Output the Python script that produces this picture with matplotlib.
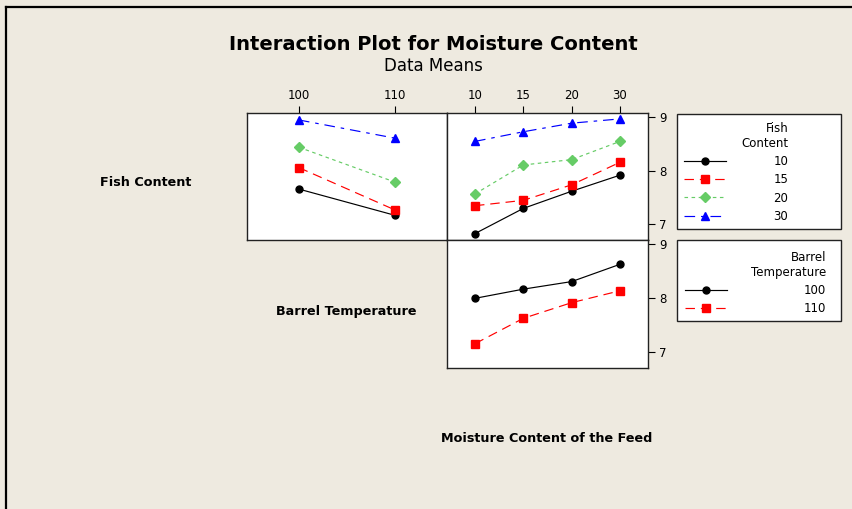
import matplotlib.pyplot as plt
from matplotlib.patches import Rectangle
from matplotlib.lines import Line2D

# niveis dos fatores
barrel_temps = ['100', '110']
moisture_levels = ['10', '15', '20', '30']
fish_levels = ['10', '15', '20', '30']

# medias de umidade: teor de peixe x temperatura do barril
fish10_by_barrel = [7.66, 7.17]
fish15_by_barrel = [8.06, 7.27]
fish20_by_barrel = [8.44, 7.79]
fish30_by_barrel = [8.95, 8.61]

# medias de umidade: teor de peixe x umidade da racao
fish10_by_moist = [6.83, 7.30, 7.62, 7.92]
fish15_by_moist = [7.35, 7.45, 7.74, 8.16]
fish20_by_moist = [7.57, 8.11, 8.21, 8.55]
fish30_by_moist = [8.55, 8.73, 8.89, 8.97]

# medias de umidade: temperatura do barril x umidade da racao
barrel100_by_moist = [8.00, 8.17, 8.31, 8.63]
barrel110_by_moist = [7.16, 7.63, 7.92, 8.14]

y_ticks = [7, 8, 9]

# estilos (estilo Minitab)
colors = ['black', '#FF0000', '#66CC66', '#0000FF']
markers = ['o', 's', 'D', '^']
msizes = [5.0, 5.2, 5.2, 6.2]
dashes = ['-', (0, (8, 5)), (0, (3, 3)), (0, (9, 5, 3, 5))]

W, H = 853, 509
bg = '#EEEAE0'
fig = plt.figure(figsize=(W / 100, H / 100), dpi=100, facecolor=bg)


def px_axes(x0, y0, x1, y1):
    # cria eixos a partir de coordenadas em pixels (origem no topo)
    return fig.add_axes([x0 / W, 1 - y1 / H, (x1 - x0) / W, (y1 - y0) / H])


def style_axes(ax, top_labels, right_labels, n):
    ax.set_facecolor('white')
    ax.set_xlim(-0.5 - 0.02 * n, n - 0.5 + 0.02 * n)
    ax.set_ylim(6.71, 9.08)
    for s in ax.spines.values():
        s.set_linewidth(1.0)
        s.set_color('#222222')
    ax.tick_params(axis='both', labelsize=8.5, length=5, width=0.8, direction='out', pad=3)
    if top_labels is not None:
        ax.xaxis.tick_top()
        ax.set_xticks(range(n))
        ax.set_xticklabels(top_labels)
    else:
        ax.set_xticks([])
    if right_labels:
        ax.yaxis.tick_right()
        ax.set_yticks(y_ticks)
    else:
        ax.set_yticks([])


# painel superior esquerdo: teor de peixe vs temperatura do barril
ax1 = px_axes(247, 113, 447, 240)
style_axes(ax1, barrel_temps, False, 2)
xb = range(len(barrel_temps))
for vals, c, m, ms, ls in zip([fish10_by_barrel, fish15_by_barrel, fish20_by_barrel, fish30_by_barrel],
                              colors, markers, msizes, dashes):
    ax1.plot(xb, vals, color=c, marker=m, markersize=ms, linestyle=ls, linewidth=0.85)

# painel superior direito: teor de peixe vs umidade da racao
ax2 = px_axes(447, 113, 648, 240)
style_axes(ax2, moisture_levels, True, 4)
xm = range(len(moisture_levels))
fish_lines = []
for vals, c, m, ms, ls in zip([fish10_by_moist, fish15_by_moist, fish20_by_moist, fish30_by_moist],
                              colors, markers, msizes, dashes):
    ln, = ax2.plot(xm, vals, color=c, marker=m, markersize=ms, linestyle=ls, linewidth=0.85)
    fish_lines.append(ln)

# painel inferior: temperatura do barril vs umidade da racao
ax3 = px_axes(447, 240, 648, 368)
style_axes(ax3, None, True, 4)
barrel_lines = []
for vals, c, m, ms, ls in zip([barrel100_by_moist, barrel110_by_moist],
                              colors, markers, msizes, dashes):
    ln, = ax3.plot(xm, vals, color=c, marker=m, markersize=ms, linestyle=ls, linewidth=0.85)
    barrel_lines.append(ln)

# caixas das legendas
for (x0, y0, x1, y1) in [(677, 114, 841, 229), (677, 240, 841, 321)]:
    fig.add_artist(Rectangle((x0 / W, 1 - y1 / H), (x1 - x0) / W, (y1 - y0) / H,
                             transform=fig.transFigure, facecolor='white',
                             edgecolor='#222222', linewidth=1.0))

leg1 = fig.legend(fish_lines, fish_levels, title='Fish\nContent', loc='upper right',
                  bbox_to_anchor=(799 / W, 1 - 111 / H), frameon=False, fontsize=8.5,
                  title_fontsize=8.5, handlelength=3.6, handletextpad=4.0,
                  labelspacing=0.45, alignment='right', borderpad=0.4)
leg1.get_title().set_multialignment('right')
leg2 = fig.legend(barrel_lines, barrel_temps, title='Barrel\nTemperature', loc='upper right',
                  bbox_to_anchor=(837 / W, 1 - 240 / H), frameon=False, fontsize=8.5,
                  title_fontsize=8.5, handlelength=3.6, handletextpad=6.5,
                  labelspacing=0.45, alignment='right', borderpad=0.4)
leg2.get_title().set_multialignment('right')

# titulos
fig.text(433 / W, 1 - 44 / H, 'Interaction Plot for Moisture Content', ha='center', va='center',
         fontsize=14, fontweight='bold')
fig.text(433 / W, 1 - 66 / H, 'Data Means', ha='center', va='center', fontsize=12)

# rotulos dos fatores
fig.text(146 / W, 1 - 183 / H, 'Fish Content', ha='center', va='center', fontsize=9.2, fontweight='bold')
fig.text(346 / W, 1 - 311 / H, 'Barrel Temperature', ha='center', va='center', fontsize=9.2, fontweight='bold')
fig.text(547 / W, 1 - 438 / H, 'Moisture Content of the Feed', ha='center', va='center', fontsize=9.2,
         fontweight='bold')

# moldura da janela
fig.add_artist(Line2D([6 / W, 1], [1 - 7 / H, 1 - 7 / H], transform=fig.transFigure, color='black', linewidth=1.6))
fig.add_artist(Line2D([6 / W, 6 / W], [0, 1 - 7 / H], transform=fig.transFigure, color='black', linewidth=1.6))

fig.savefig('out.png', dpi=100, facecolor=bg)
plt.close()
